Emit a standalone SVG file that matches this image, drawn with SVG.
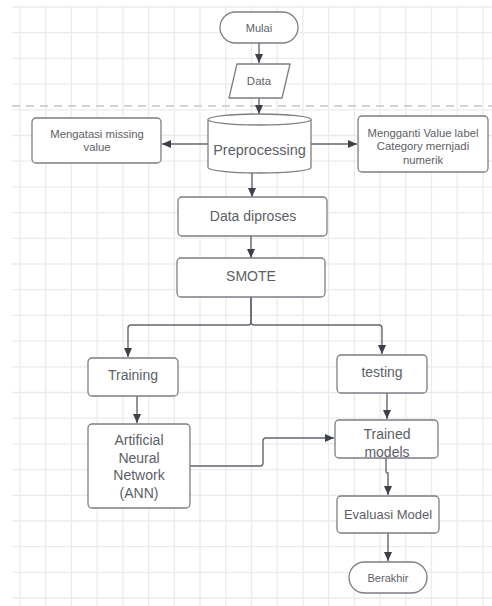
<svg xmlns="http://www.w3.org/2000/svg" width="492" height="606" viewBox="0 0 492 606">
<defs>
<style>
.grid{stroke:#ebebeb;stroke-width:1.3;fill:none}
.node{fill:#ffffff;stroke:#7b7e84;stroke-width:1.3}
.t{font-family:"Liberation Sans",Arial,sans-serif;fill:#5c6066;text-anchor:middle}
.c{fill:none;stroke:#62666d;stroke-width:1.4}
</style>
<marker id="ah" markerUnits="userSpaceOnUse" markerWidth="10" markerHeight="10" refX="9" refY="4" orient="auto">
<path d="M0,0 L9,4 L0,8 Z" fill="#3c4049"/>
</marker>
</defs>
<rect width="492" height="606" fill="#ffffff"/>
<g id="grid">
<path class="grid" d="M20 7V606M45.7 7V606M71.4 7V606M97.2 7V606M122.9 7V606M148.6 7V606M174.3 7V606M200 7V606M225.8 7V606M251.5 7V606M277.2 7V606M302.9 7V606M328.6 7V606M354.4 7V606M380.1 7V606M405.8 7V606M431.5 7V606M457.2 7V606M483 7V606"/>
<path class="grid" d="M12 7H492M12 32.7H492M12 58.4H492M12 84.1H492M12 109.8H492M12 135.5H492M12 161.2H492M12 186.9H492M12 212.6H492M12 238.3H492M12 264H492M12 289.7H492M12 315.4H492M12 341.1H492M12 366.8H492M12 392.5H492M12 418.2H492M12 443.9H492M12 469.6H492M12 495.3H492M12 521H492M12 546.7H492M12 572.4H492M12 598H492"/>
<path d="M12 106H492" stroke="#d3d3d3" stroke-width="2" stroke-dasharray="8 6" fill="none"/>
</g>
<g id="connectors">
<path class="c" d="M259 43V63" marker-end="url(#ah)"/>
<path class="c" d="M259 98V114" marker-end="url(#ah)"/>
<path class="c" d="M208 144H162" marker-end="url(#ah)"/>
<path class="c" d="M311 144H357" marker-end="url(#ah)"/>
<path class="c" d="M252 173V197" marker-end="url(#ah)"/>
<path class="c" d="M251 236V258" marker-end="url(#ah)"/>
<path class="c" d="M251 297V322Q251 325 248 325H131Q128 325 128 328V357" marker-end="url(#ah)"/>
<path class="c" d="M251 297V322Q251 325 254 325H379Q382 325 382 328V354" marker-end="url(#ah)"/>
<path class="c" d="M137 396V423" marker-end="url(#ah)"/>
<path class="c" d="M387 393V419" marker-end="url(#ah)"/>
<path class="c" d="M190 466H260Q263 466 263 463V441Q263 438 266 438H334" marker-end="url(#ah)"/>
<path class="c" d="M386 458V471Q386 473 388 473V495" marker-end="url(#ah)"/>
<path class="c" d="M388 533V561" marker-end="url(#ah)"/>
</g>
<g id="mulai">
<rect class="node" x="220" y="12" width="78" height="31" rx="15.5"/>
<text class="t" x="259" y="31.5" font-size="11">Mulai</text>
</g>
<g id="data">
<path class="node" d="M237 64H290L282 98H229Z" stroke-linejoin="round"/>
<text class="t" x="259" y="85" font-size="11.5">Data</text>
</g>
<g id="preprocessing">
<path class="node" d="M208 119.5V167.5A51.5 5.5 0 0 0 311 167.5V119.5A51.5 5.5 0 0 0 208 119.5Z"/>
<path class="node" d="M208 119.5A51.5 5.5 0 0 0 311 119.5" fill="none"/>
<text class="t" x="259.5" y="155" font-size="14.5">Preprocessing</text>
</g>
<g id="missing">
<rect class="node" x="32" y="118" width="129" height="45" rx="4"/>
<text class="t" x="97" y="137.5" font-size="11.3">Mengatasi missing</text>
<text class="t" x="97" y="151" font-size="11.3">value</text>
</g>
<g id="label">
<rect class="node" x="358" y="116" width="130" height="56" rx="4"/>
<text class="t" x="423" y="136.5" font-size="11.3">Mengganti Value label</text>
<text class="t" x="423" y="150" font-size="11.3">Category mernjadi</text>
<text class="t" x="423" y="163.5" font-size="11.3">numerik</text>
</g>
<g id="diproses">
<rect class="node" x="178" y="197" width="149" height="39" rx="4"/>
<text class="t" x="253" y="221" font-size="14">Data diproses</text>
</g>
<g id="smote">
<rect class="node" x="177" y="258" width="148" height="39" rx="4"/>
<text class="t" x="251" y="281" font-size="14">SMOTE</text>
</g>
<g id="training">
<rect class="node" x="88" y="358" width="90" height="38" rx="4"/>
<text class="t" x="133" y="380" font-size="14">Training</text>
</g>
<g id="testing">
<rect class="node" x="337" y="355" width="90" height="38" rx="4"/>
<text class="t" x="382" y="377" font-size="14">testing</text>
</g>
<g id="ann">
<rect class="node" x="88" y="424" width="102" height="84" rx="4"/>
<text class="t" x="139" y="445" font-size="14">Artificial</text>
<text class="t" x="139" y="462.5" font-size="14">Neural</text>
<text class="t" x="139" y="480" font-size="14">Network</text>
<text class="t" x="139" y="497.5" font-size="14">(ANN)</text>
</g>
<g id="trained">
<rect class="node" x="335" y="420" width="103" height="38" rx="4"/>
<text class="t" x="387" y="439" font-size="14">Trained</text>
<text class="t" x="387" y="456.5" font-size="14">models</text>
</g>
<g id="evaluasi">
<rect class="node" x="337" y="496" width="102" height="37" rx="4"/>
<text class="t" x="388" y="519" font-size="13">Evaluasi Model</text>
</g>
<g id="berakhir">
<rect class="node" x="349" y="562" width="78" height="31" rx="15.5"/>
<text class="t" x="388" y="582" font-size="11">Berakhir</text>
</g>
</svg>
